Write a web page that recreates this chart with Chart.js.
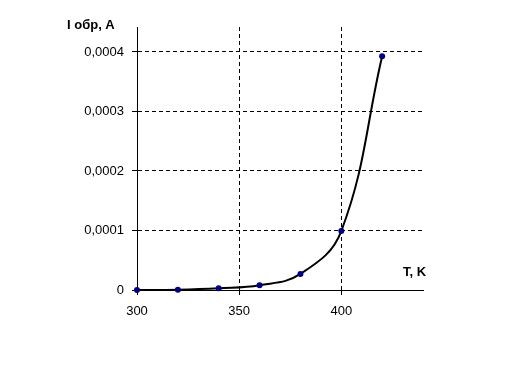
<!DOCTYPE html>
<html>
<head>
<meta charset="utf-8">
<script src="https://cdn.jsdelivr.net/npm/chart.js@4"></script>
<style>
  body { margin: 0; background: #fff; }
  canvas { display: block; }
</style>
</head>
<body>
<canvas id="chart" width="531" height="366"></canvas>
<script>
// температура, K
const temps = [300, 320, 340, 360, 380, 400, 420];
// обратный ток, A
const currents = [0, 0.0000005, 0.000003, 0.000008, 0.000027, 0.000099, 0.000393];

const xTicks = [300, 350, 400];
const xTickLabels = ['300', '350', '400'];
const yTicks = [0, 0.0001, 0.0002, 0.0003, 0.0004];
const yTickLabels = ['0', '0,0001', '0,0002', '0,0003', '0,0004'];

const yTitle = 'I обр, A';
const xTitle = 'T, K';

// подписи осей
const axisTitles = {
    id: 'axisTitles',
    afterDraw(chart) {
        const ctx = chart.ctx;
        ctx.save();
        ctx.fillStyle = '#000';
        ctx.font = 'bold 13px Arial, "Liberation Sans"';
        ctx.textBaseline = 'alphabetic';
        ctx.fillText(yTitle, 67, 29);
        ctx.fillText(xTitle, 403, 276);
        ctx.restore();
    }
};

const font = { family: 'Arial, "Liberation Sans"', size: 13 };

const gridOpts = {
    color: '#000',
    lineWidth: 1,
    tickLength: 5,
    tickBorderDash: [],
    tickColor: '#000'
};

new Chart(document.getElementById('chart'), {
    type: 'line',
    data: {
        datasets: [{
            data: temps.map((t, i) => ({ x: t, y: currents[i] })),
            borderColor: '#000',
            borderWidth: 2,
            tension: 0.4,
            clip: false,
            pointRadius: 3,
            pointHoverRadius: 3,
            pointBackgroundColor: '#000080',
            pointBorderColor: '#000080',
            pointBorderWidth: 0,
            fill: false
        }]
    },
    options: {
        responsive: false,
        animation: false,
        layout: { padding: { top: 27, right: 108, left: 0, bottom: 0 } },
        plugins: { legend: { display: false }, tooltip: { enabled: false } },
        scales: {
            x: {
                type: 'linear',
                min: 300,
                max: 440,
                afterBuildTicks: s => { s.ticks = xTicks.map(v => ({ value: v })); },
                afterFit: s => { s.height = 76; },
                ticks: {
                    color: '#000',
                    font: font,
                    padding: 9,
                    maxRotation: 0,
                    callback: (v, i) => xTickLabels[i]
                },
                grid: gridOpts,
                border: { display: true, color: '#000', width: 1, dash: [4, 3] }
            },
            y: {
                min: 0,
                max: 0.000442,
                afterBuildTicks: s => { s.ticks = yTicks.map(v => ({ value: v })); },
                afterFit: s => { s.width = 137; },
                ticks: {
                    color: '#000',
                    font: font,
                    padding: 8,
                    callback: (v, i) => yTickLabels[i]
                },
                grid: gridOpts,
                border: { display: true, color: '#000', width: 1, dash: [4, 3] }
            }
        }
    },
    plugins: [axisTitles]
});
</script>
</body>
</html>
